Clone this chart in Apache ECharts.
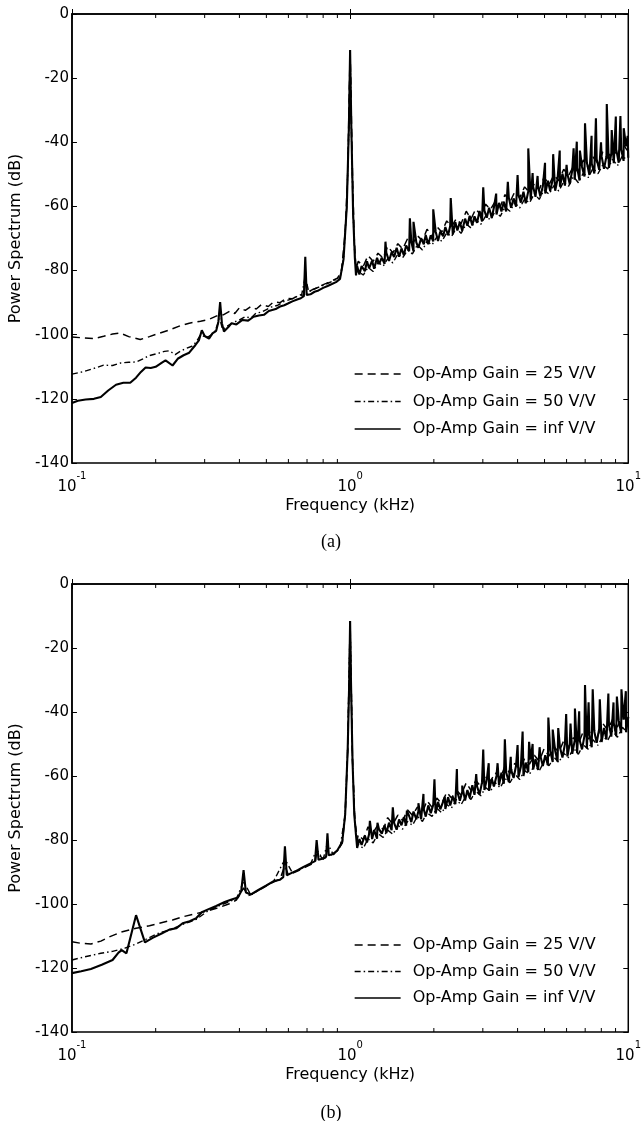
<!DOCTYPE html>
<html><head><meta charset="utf-8">
<script src="https://cdn.jsdelivr.net/npm/echarts@6/dist/echarts.min.js"></script>
<style>html,body{margin:0;padding:0;background:#fff}#c{width:644px;height:1121px}</style>
</head><body><div id="c"></div>
<script>
// ---------- axis settings ----------
const Y_MIN = -140, Y_MAX = 0, Y_STEP = 20;
const X_MIN = 0.1, X_MAX = 10;
const minorTickFreqs = [0.2,0.3,0.4,0.5,0.6,0.7,0.8,0.9,2,3,4,5,6,7,8,9];
const seriesNames = ['Op-Amp Gain = 25 V/V','Op-Amp Gain = 50 V/V','Op-Amp Gain = inf V/V'];
const panelLabels = ['(a)','(b)'];

// ---------- frequency grids of the noise band above 1 kHz ----------
const bandFreq = [1.06,1.08,1.10,1.13,1.15,1.17,1.20,1.22,1.25,1.27,1.30,1.33,1.35,1.38,1.41,1.44,1.47,1.50,1.53,1.56,
1.59,1.63,1.66,1.69,1.73,1.76,1.80,1.84,1.87,1.91,1.95,1.99,2.03,2.07,2.11,2.16,2.20,2.25,2.29,2.34,
2.39,2.43,2.48,2.53,2.59,2.64,2.69,2.75,2.80,2.86,2.92,2.98,3.04,3.10,3.16,3.23,3.29,3.36,3.43,3.50,
3.57,3.64,3.72,3.79,3.87,3.95,4.03,4.11,4.20,4.28,4.37,4.46,4.55,4.64,4.74,4.83,4.93,5.03,5.14,5.24,
5.35,5.46,5.57,5.68,5.80,5.92,6.04,6.16,6.29,6.42,6.55,6.68,6.82,6.96,7.10,7.25,7.39,7.55,7.70,7.86,
8.02,8.18,8.35,8.52,8.69,8.87,9.05,9.24,9.43,9.62,9.82,10.0];
const bandFreq2 = [1.07,1.115,1.16,1.21,1.26,1.315,1.365,1.425,1.485,1.545,1.61,1.675,1.745,1.82,1.89,1.97,2.05,2.135,2.225,2.315,
2.41,2.505,2.615,2.72,2.83,2.95,3.07,3.195,3.325,3.465,3.605,3.755,3.91,4.07,4.24,4.415,4.595,4.785,4.98,5.19,
5.405,5.625,5.86,6.1,6.355,6.615,6.89,7.175,7.47,7.78,8.1,8.435,8.78,9.145,9.525,9.91];

// ---------- panel (a) ----------
const solidA_lo = [[0.100,-121.3],[0.105,-120.6],[0.112,-120.2],[0.120,-120.0],[0.127,-119.4],[0.135,-117.4],[0.144,-115.6],[0.153,-115.0],[0.162,-115.0],[0.170,-113.4],[0.177,-111.6],[0.184,-110.2],[0.192,-110.4],[0.200,-110.0],[0.210,-108.8],[0.217,-108.0],[0.230,-109.6],[0.240,-107.5],[0.252,-106.4],[0.264,-105.6],[0.278,-103.2],[0.286,-101.8],[0.293,-98.6],[0.300,-100.4],[0.311,-101.2],[0.320,-99.6],[0.330,-98.8],[0.336,-96.0],[0.341,-89.8],[0.346,-96.4],[0.352,-99.0],[0.365,-97.6],[0.375,-96.4],[0.390,-96.8],[0.410,-95.4],[0.430,-95.6],[0.450,-94.4],[0.470,-94.0],[0.490,-93.8],[0.510,-92.6],[0.540,-92.0],[0.560,-91.2],[0.580,-90.8],[0.600,-90.2],[0.620,-89.6],[0.645,-89.0],[0.665,-88.6],[0.682,-88.0],[0.690,-75.7],[0.698,-87.6],[0.720,-87.4],[0.745,-86.6],[0.770,-86.2],[0.800,-85.4],[0.830,-84.8],[0.860,-84.2],[0.890,-83.6],[0.920,-82.6],[0.947,-76.5],[0.973,-60.0],[0.990,-35.0],[1.000,-11.2],[1.010,-35.0],[1.025,-62.0],[1.040,-76.0],[1.050,-81.5]];
const solidA_band = [-78.6,-81.2,-78.6,-80.2,-77.1,-79.3,-76.9,-79.4,-76.0,-78.0,-76.0,-77.9,-74.5,-77.0,-74.3,-75.8,-72.9,-75.7,-73.1,-75.2,
-72.2,-74.0,-71.0,-74.0,-71.2,-72.9,-69.9,-71.8,-68.9,-71.8,-69.0,-70.9,-67.8,-70.8,-67.8,-69.3,-66.4,-69.0,-66.1,-68.7,
-64.9,-67.5,-64.9,-67.6,-63.8,-66.0,-62.9,-65.9,-63.1,-65.1,-61.4,-64.7,-61.3,-63.5,-60.4,-63.6,-60.2,-62.5,-58.9,-61.6,
-58.5,-61.6,-57.3,-60.4,-57.5,-60.1,-56.3,-58.8,-55.4,-59.0,-55.3,-57.9,-53.9,-57.0,-53.7,-56.9,-53.7,-56.0,-52.0,-55.2,
-51.5,-55.1,-51.4,-53.9,-49.8,-53.5,-49.8,-53.0,-48.7,-51.7,-47.9,-51.9,-47.7,-50.7,-46.4,-50.2,-46.6,-49.7,-45.3,-48.6,
-44.4,-48.3,-44.3,-48.0,-43.4,-46.5,-42.2,-46.4,-42.2,-45.8,-41.3,-44.8];
const spikesA = [[1.34,-71.0],[1.64,-63.7],[1.69,-64.8],[1.99,-60.9],[2.30,-57.4],[2.33,-57.6],[3.01,-54.0],[3.35,-56.0],[3.69,-52.3],[4.00,-50.2],[4.37,-41.9],[4.53,-49.6],[4.72,-50.5],[5.02,-46.4],[5.37,-43.7],[5.67,-42.6],[6.00,-47.0],[6.36,-41.9],[6.53,-39.8],[6.70,-42.6],[6.99,-34.1],[7.38,-38.0],[7.65,-32.5],[7.98,-40.0],[8.37,-28.1],[8.72,-36.2],[9.02,-32.0],[9.37,-31.8],[9.63,-35.6],[9.95,-38.0]];
const dashdotA_lo = [[0.100,-112.3],[0.110,-111.5],[0.120,-110.5],[0.130,-109.5],[0.140,-109.6],[0.150,-108.8],[0.160,-108.6],[0.170,-108.5],[0.180,-107.5],[0.190,-106.5],[0.206,-105.7],[0.215,-105.2],[0.224,-105.0],[0.235,-106.2],[0.245,-105.2],[0.255,-104.4],[0.270,-103.6],[0.280,-102.2],[0.290,-100.0],[0.300,-100.6],[0.310,-100.6],[0.325,-99.4],[0.340,-95.0],[0.348,-98.4],[0.360,-97.4],[0.380,-96.2],[0.400,-95.4],[0.420,-94.4],[0.440,-94.8],[0.460,-93.2],[0.480,-93.0],[0.500,-92.2],[0.520,-91.4],[0.550,-90.8],[0.580,-89.6],[0.610,-89.0],[0.640,-88.2],[0.670,-87.4],[0.690,-82.0],[0.710,-86.6],[0.740,-85.8],[0.770,-85.2],[0.800,-84.6],[0.840,-83.8],[0.880,-83.0],[0.920,-82.2],[0.947,-76.5],[0.973,-60.0],[0.990,-35.0],[1.000,-11.4],[1.010,-35.0],[1.025,-62.0],[1.040,-76.0],[1.055,-81.0]];
const dashdotA_band = [-80.2,-81.4,-79.0,-80.3,-77.4,-78.6,-76.3,-77.6,-74.8,-76.0,-73.6,-74.8,-72.0,-73.6,-70.9,-72.0,-69.5,-70.9,-68.3,-69.4,
-66.7,-68.4,-65.5,-66.7,-64.1,-65.6,-63.0,-64.2,-61.4,-63.1,-60.2,-61.5,-58.8,-60.5,-57.7,-58.9,-56.0,-57.8,-54.9,-56.2,
-53.5,-55.2,-52.3,-53.7,-50.7,-52.6,-49.6,-51.0,-48.1,-49.8,-47.0,-48.3,-45.3,-47.3,-44.2,-45.7];
const dashedA_lo = [[0.100,-100.7],[0.110,-101.0],[0.120,-101.2],[0.130,-100.5],[0.140,-99.8],[0.149,-99.5],[0.160,-100.6],[0.176,-101.5],[0.190,-100.6],[0.205,-99.6],[0.224,-98.5],[0.245,-97.2],[0.264,-96.4],[0.290,-95.8],[0.311,-95.2],[0.330,-94.2],[0.350,-93.8],[0.370,-92.6],[0.385,-93.4],[0.400,-91.6],[0.420,-92.4],[0.440,-91.2],[0.460,-92.0],[0.480,-90.6],[0.508,-91.2],[0.530,-89.8],[0.560,-90.0],[0.590,-88.6],[0.620,-88.8],[0.650,-87.8],[0.680,-87.6],[0.690,-80.0],[0.700,-86.8],[0.730,-86.0],[0.760,-85.4],[0.790,-84.6],[0.820,-84.0],[0.860,-83.2],[0.900,-82.4],[0.930,-80.5],[0.960,-68.0],[0.980,-50.0],[1.000,-11.4],[1.020,-50.0],[1.035,-70.0],[1.050,-79.5]];
const dashedA_band = [-77.1,-78.7,-75.3,-77.1,-74.6,-76.1,-72.4,-74.5,-71.6,-73.3,-70.0,-71.7,-69.1,-70.7,-67.1,-69.2,-66.3,-68.0,-64.5,-66.3,
-63.8,-65.4,-61.5,-63.9,-60.8,-62.6,-59.3,-61.0,-58.4,-60.1,-56.3,-58.6,-55.4,-57.3,-53.9,-55.7,-52.9,-54.8,-50.9,-53.2,
-50.2,-52.0,-48.4,-50.4,-47.4,-49.4,-45.5,-47.9,-44.6,-46.6,-43.0,-45.0,-41.8,-44.1,-40.2,-42.5];

// ---------- panel (b) ----------
const solidB_lo = [[0.100,-121.6],[0.108,-121.0],[0.117,-120.3],[0.128,-119.0],[0.140,-117.5],[0.147,-115.2],[0.151,-114.4],[0.157,-115.4],[0.170,-103.5],[0.183,-112.0],[0.195,-110.6],[0.210,-109.2],[0.224,-108.0],[0.237,-107.6],[0.250,-106.0],[0.265,-105.4],[0.280,-104.4],[0.293,-102.6],[0.310,-101.6],[0.330,-100.6],[0.354,-99.4],[0.375,-98.6],[0.395,-98.0],[0.406,-96.0],[0.414,-89.4],[0.422,-96.4],[0.440,-97.0],[0.468,-95.6],[0.500,-94.2],[0.533,-92.8],[0.560,-92.4],[0.575,-91.6],[0.583,-82.0],[0.592,-91.0],[0.620,-90.2],[0.648,-89.4],[0.680,-88.4],[0.721,-87.3],[0.748,-86.6],[0.758,-80.0],[0.770,-86.2],[0.800,-85.8],[0.820,-85.2],[0.829,-77.9],[0.838,-84.8],[0.870,-84.4],[0.900,-83.2],[0.937,-80.6],[0.960,-72.0],[0.980,-52.0],[0.993,-30.0],[1.000,-11.6],[1.007,-30.0],[1.020,-55.0],[1.035,-72.0],[1.050,-78.5]];
const solidB_band = [-82.5,-79.7,-81.5,-78.6,-80.8,-78.2,-79.7,-76.9,-79.6,-76.6,-78.0,-75.4,-77.8,-74.6,-76.9,-74.7,-76.8,-73.6,-75.4,-72.9,
-75.5,-72.5,-74.4,-71.1,-73.5,-71.0,-73.5,-70.4,-72.7,-69.2,-71.6,-69.0,-71.7,-68.1,-70.4,-68.0,-70.3,-66.6,-69.2,-66.4,
-68.8,-65.0,-67.7,-64.9,-67.7,-64.4,-66.8,-62.9,-65.9,-63.2,-65.8,-62.0,-64.4,-61.1,-64.6,-60.9,-63.3,-59.9,-62.9,-59.0,
-62.4,-58.9,-61.9,-58.0,-60.6,-56.8,-60.3,-57.1,-60.0,-55.8,-58.8,-54.9,-58.0,-54.7,-58.1,-53.7,-56.9,-53.5,-56.6,-52.1,
-55.6,-52.1,-55.5,-51.0,-54.2,-50.0,-53.9,-49.9,-53.1,-48.8,-52.9,-48.7,-51.7,-47.4,-51.4,-47.1,-51.0,-46.2,-49.6,-45.3,
-49.4,-45.0,-48.6,-43.9,-47.7,-43.5,-47.5,-42.7,-46.6,-42.4,-46.3,-41.5];
const spikesB = [[1.178,-74.0],[1.254,-74.6],[1.424,-69.8],[1.50,-73.0],[1.60,-70.8],[1.76,-68.5],[1.835,-65.6],[2.01,-61.0],[2.19,-66.5],[2.42,-57.8],[2.53,-63.0],[2.84,-59.4],[3.01,-51.7],[3.15,-56.0],[3.39,-56.0],[3.60,-48.5],[3.78,-54.0],[4.00,-50.3],[4.17,-46.1],[4.40,-49.3],[4.53,-50.0],[4.80,-51.0],[5.16,-41.7],[5.35,-45.5],[5.60,-45.0],[5.98,-40.6],[6.20,-43.6],[6.43,-38.9],[6.66,-39.8],[6.99,-31.6],[7.20,-37.0],[7.45,-32.9],[7.90,-36.0],[8.48,-34.2],[8.85,-37.0],[9.10,-35.2],[9.45,-32.9],[9.80,-33.5]];
const dashdotB_lo = [[0.100,-117.5],[0.110,-116.6],[0.127,-115.4],[0.140,-114.8],[0.155,-113.8],[0.170,-112.5],[0.185,-111.0],[0.206,-109.0],[0.224,-108.2],[0.250,-106.4],[0.280,-104.8],[0.310,-102.0],[0.350,-100.0],[0.390,-98.4],[0.414,-93.0],[0.440,-97.2],[0.480,-95.2],[0.530,-93.0],[0.583,-86.0],[0.620,-90.2],[0.680,-88.6],[0.720,-87.6],[0.758,-83.0],[0.800,-86.0],[0.829,-81.0],[0.870,-84.6],[0.920,-82.5],[0.960,-72.0],[0.980,-52.0],[1.000,-11.6],[1.020,-55.0],[1.040,-74.0],[1.060,-80.0]];
const dashdotB_band = [-81.4,-82.6,-79.6,-80.9,-78.0,-79.2,-76.9,-78.2,-75.4,-76.6,-74.2,-75.4,-72.6,-74.2,-71.5,-72.6,-70.1,-71.5,-68.9,-70.0,
-67.3,-69.0,-66.1,-67.3,-64.7,-66.2,-63.6,-64.8,-62.0,-63.7,-60.8,-62.1,-59.4,-61.1,-58.3,-59.5,-56.6,-58.4,-55.5,-56.8,
-54.1,-55.8,-52.9,-54.3,-51.3,-53.2,-50.2,-51.6,-48.7,-50.4,-47.6,-48.9,-45.9,-47.9,-44.8,-46.3];
const dashedB_lo = [[0.100,-111.8],[0.108,-112.3],[0.117,-112.5],[0.127,-111.6],[0.137,-110.2],[0.150,-108.8],[0.170,-107.6],[0.190,-106.8],[0.206,-106.0],[0.230,-105.0],[0.250,-104.0],[0.280,-103.0],[0.311,-102.0],[0.340,-101.0],[0.366,-100.0],[0.390,-98.8],[0.414,-95.0],[0.430,-97.4],[0.450,-96.6],[0.480,-95.3],[0.520,-93.5],[0.560,-92.2],[0.583,-88.0],[0.600,-91.0],[0.650,-89.6],[0.700,-88.2],[0.750,-87.0],[0.758,-84.0],[0.800,-85.9],[0.850,-84.8],[0.900,-83.4],[0.937,-81.0],[0.960,-72.0],[0.980,-52.0],[1.000,-11.6],[1.020,-55.0],[1.040,-74.0],[1.060,-80.0]];
const dashedB_band = [-78.3,-79.9,-75.9,-77.7,-75.2,-76.7,-73.0,-75.1,-72.2,-73.9,-70.6,-72.3,-69.7,-71.3,-67.7,-69.8,-66.9,-68.6,-65.1,-66.9,
-64.4,-66.0,-62.1,-64.5,-61.4,-63.2,-59.9,-61.6,-59.0,-60.7,-56.9,-59.2,-56.0,-57.9,-54.5,-56.3,-53.5,-55.4,-51.5,-53.8,
-50.8,-52.6,-49.0,-51.0,-48.0,-50.0,-46.1,-48.5,-45.2,-47.2,-43.6,-45.6,-42.4,-44.7,-40.8,-43.1];

// ---------- build ----------
function withBand(lo, freqs, vals, spikes) {
  const hi = freqs.map((f, i) => [f, vals[i]]).concat(spikes || []);
  hi.sort((a, b) => a[0] - b[0]);
  return lo.concat(hi);
}
const panels = [
  { dashed: withBand(dashedA_lo, bandFreq2, dashedA_band), dashdot: withBand(dashdotA_lo, bandFreq2, dashdotA_band), solid: withBand(solidA_lo, bandFreq, solidA_band, spikesA) },
  { dashed: withBand(dashedB_lo, bandFreq2, dashedB_band), dashdot: withBand(dashdotB_lo, bandFreq2, dashdotB_band), solid: withBand(solidB_lo, bandFreq, solidB_band, spikesB) }
];

const FONT = 'DejaVu Sans';
const grids = [
  { left: 68, top: 14, width: 564, height: 449 },
  { left: 68, top: 584, width: 564, height: 448 }
];
const legendTops = [361, 932];
const legendGaps = [11.5, 10.5];
const labelTops = [528, 1099];

const xAxis = [], yAxis = [], series = [], legend = [], title = [];
grids.forEach((g, i) => {
  g.show = true; g.borderColor = '#000'; g.borderWidth = 1.5; g.backgroundColor = '#fff';
  xAxis.push({
    type: 'log', logBase: 10, min: X_MIN, max: X_MAX, gridIndex: i, position: 'bottom',
    name: 'Frequency (kHz)', nameLocation: 'middle', nameGap: 35,
    nameTextStyle: { fontFamily: FONT, fontSize: 16, color: '#000' },
    axisLine: { show: true, lineStyle: { color: '#000', width: 1.5 } },
    axisTick: { show: true, inside: true, length: 5, lineStyle: { color: '#000' } },
    splitLine: { show: false }, minorTick: { show: false },
    axisLabel: {
      margin: 8, color: '#000',
      formatter: v => '{b|10}{s|' + Math.round(Math.log10(v)) + '}',
      rich: {
        b: { fontFamily: FONT, fontSize: 15, color: '#000', lineHeight: 24, verticalAlign: 'bottom' },
        s: { fontFamily: FONT, fontSize: 10, color: '#000', verticalAlign: 'top' }
      }
    }
  });
  xAxis.push({
    type: 'log', logBase: 10, min: X_MIN, max: X_MAX, gridIndex: i, position: 'top',
    axisLine: { show: false }, axisLabel: { show: false }, splitLine: { show: false },
    axisTick: { show: true, inside: true, length: 5, lineStyle: { color: '#000' } }
  });
  yAxis.push({
    type: 'value', min: Y_MIN, max: Y_MAX, interval: Y_STEP, gridIndex: i, position: 'left',
    name: 'Power Spectrum (dB)', nameLocation: 'middle', nameGap: 43,
    nameTextStyle: { fontFamily: FONT, fontSize: 16, color: '#000' },
    axisLine: { show: true, lineStyle: { color: '#000', width: 1.5 } },
    axisTick: { show: true, inside: true, length: 5, lineStyle: { color: '#000' } },
    splitLine: { show: false },
    axisLabel: { margin: 3, fontFamily: FONT, fontSize: 15, color: '#000' }
  });
  yAxis.push({
    type: 'value', min: Y_MIN, max: Y_MAX, interval: Y_STEP, gridIndex: i, position: 'right',
    axisLine: { show: false }, axisLabel: { show: false }, splitLine: { show: false },
    axisTick: { show: true, inside: true, length: 5, lineStyle: { color: '#000' } }
  });
  const xi = 2 * i, yi = 2 * i;
  const p = panels[i];
  const common = { type: 'line', xAxisIndex: xi, yAxisIndex: yi, symbol: 'none', showSymbol: false, silent: true, animation: false, clip: true };
  series.push(Object.assign({}, common, { name: seriesNames[0], data: p.dashed, lineStyle: { color: '#000', width: 1.5, type: [8, 5] }, itemStyle: { color: '#000' }, z: 2 }));
  series.push(Object.assign({}, common, { name: seriesNames[1], data: p.dashdot, lineStyle: { color: '#000', width: 1.4, type: [6, 3, 1.5, 3] }, itemStyle: { color: '#000' }, z: 3 }));
  series.push(Object.assign({}, common, { name: seriesNames[2], data: p.solid, lineStyle: { color: '#000', width: 2.1 }, itemStyle: { color: '#000' }, z: 4 }));
  series.push({
    type: 'custom', xAxisIndex: xi, yAxisIndex: yi, silent: true, animation: false, z: 5,
    data: minorTickFreqs.map(f => [f, Y_MIN]),
    renderItem: (params, api) => {
      const f = api.value(0);
      const b = api.coord([f, Y_MIN]);
      const t = api.coord([f, Y_MAX]);
      return { type: 'group', children: [
        { type: 'line', shape: { x1: b[0], y1: b[1], x2: b[0], y2: b[1] - 4 }, style: { stroke: '#000', lineWidth: 1 } },
        { type: 'line', shape: { x1: t[0], y1: t[1], x2: t[0], y2: t[1] + 4 }, style: { stroke: '#000', lineWidth: 1 } }
      ] };
    }
  });
  legend.push({
    orient: 'vertical', left: 349, top: legendTops[i], itemWidth: 46, itemHeight: 14, itemGap: legendGaps[i],
    data: seriesNames, selectedMode: false,
    itemStyle: { color: 'rgba(0,0,0,0)', borderColor: 'rgba(0,0,0,0)', borderWidth: 0 },
    lineStyle: { width: 1.3 },
    textStyle: { fontFamily: FONT, fontSize: 16, color: '#000', padding: [0, 0, 0, 7] }
  });
  title.push({
    text: panelLabels[i], left: 326, top: labelTops[i], textAlign: 'center',
    textStyle: { fontFamily: 'Liberation Serif', fontSize: 18, fontWeight: 'normal', color: '#000' }
  });
});

const chart = echarts.init(document.getElementById('c'), null, { renderer: 'canvas' });
chart.setOption({ backgroundColor: '#fff', animation: false, grid: grids, xAxis, yAxis, series, legend, title });
</script>
</body></html>
